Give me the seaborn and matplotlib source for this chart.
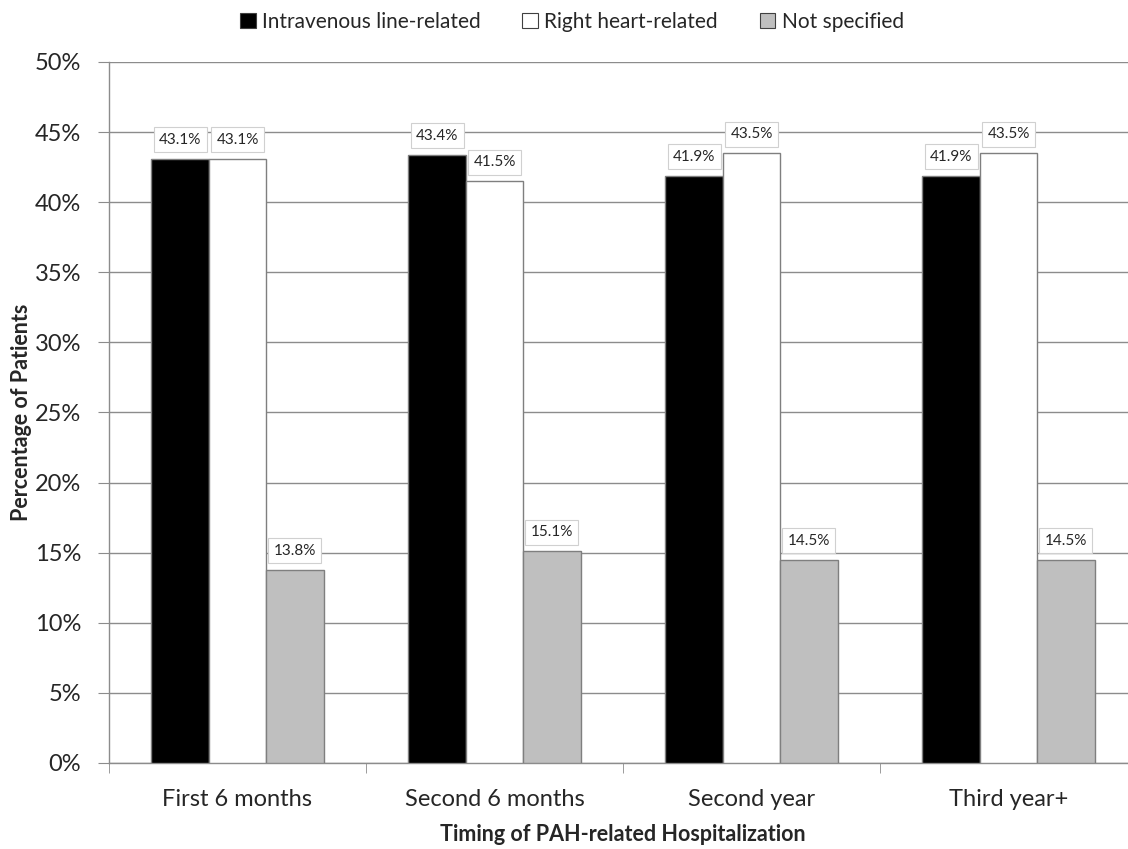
import pandas as pd
import numpy as np
import seaborn as sns
import matplotlib.pyplot as plt
from matplotlib.patches import Patch
from matplotlib.ticker import FixedLocator, PercentFormatter

periods = ["First 6 months", "Second 6 months", "Second year", "Third year+"]
types = ["Intravenous line-related", "Right heart-related", "Not specified"]
iv_line = [43.1, 43.4, 41.9, 41.9]
right_heart = [43.1, 41.5, 43.5, 43.5]
not_spec = [13.8, 15.1, 14.5, 14.5]
colors = ["#000000", "#ffffff", "#bfbfbf"]

df = pd.DataFrame({
    "period": periods * 3,
    "type": [types[0]] * 4 + [types[1]] * 4 + [types[2]] * 4,
    "pct": iv_line + right_heart + not_spec,
})

sns.set_style("white")
plt.rcParams['font.family'] = ['Lato', 'DejaVu Sans']

fig = plt.figure(figsize=(11.28, 8.49), dpi=100)
ax = fig.add_axes([0.0966, 0.1013, 0.9114, 0.8257])

sns.barplot(data=df, x="period", y="pct", hue="type", order=periods, hue_order=types,
            palette=colors, width=0.67, edgecolor="#7f7f7f", linewidth=1,
            legend=False, ax=ax, zorder=3)

# value labels in little boxes
for cont in ax.containers:
    for bar in cont:
        h = bar.get_height()
        ax.text(bar.get_x() + bar.get_width() / 2, h + 1.35, f"{h:.1f}%",
                ha="center", va="center", fontsize=11, zorder=5,
                bbox=dict(boxstyle="square,pad=0.35", fc="white", ec="#d0d0d0", lw=0.8))

ax.set_ylim(0, 50)
ax.set_xlim(-0.5, 3.5)
ax.set_yticks(np.arange(0, 51, 5))
ax.yaxis.set_major_formatter(PercentFormatter(decimals=0))
ax.yaxis.grid(True, color="#8c8c8c", linewidth=1, zorder=0)
ax.set_axisbelow(True)

for s in ["top", "right"]:
    ax.spines[s].set_visible(False)
for s in ["left", "bottom"]:
    ax.spines[s].set_color("#8c8c8c")
    ax.spines[s].set_linewidth(1)

ax.tick_params(axis="y", which="major", length=8, color="#8c8c8c", labelsize=17, pad=12, left=True)
ax.tick_params(axis="x", which="major", length=0, labelsize=17, pad=19)
ax.xaxis.set_minor_locator(FixedLocator([-0.5, 0.5, 1.5, 2.5, 3.5]))
ax.tick_params(axis="x", which="minor", length=7, color="#8c8c8c", bottom=True, direction="out")

ax.set_xlabel("Timing of PAH-related Hospitalization", fontsize=15.5, fontweight="bold", labelpad=10)
ax.set_ylabel("Percentage of Patients", fontsize=15.5, fontweight="bold", labelpad=2)

handles = [Patch(facecolor=c, edgecolor="#404040", linewidth=0.8) for c in colors]
fig.legend(handles, types, loc="upper center", bbox_to_anchor=(0.507, 1.008), ncol=3,
           frameon=False, fontsize=15, handlelength=0.75, handleheight=0.75,
           handletextpad=0.3, columnspacing=2.0)

fig.savefig("out.png", dpi=100)
